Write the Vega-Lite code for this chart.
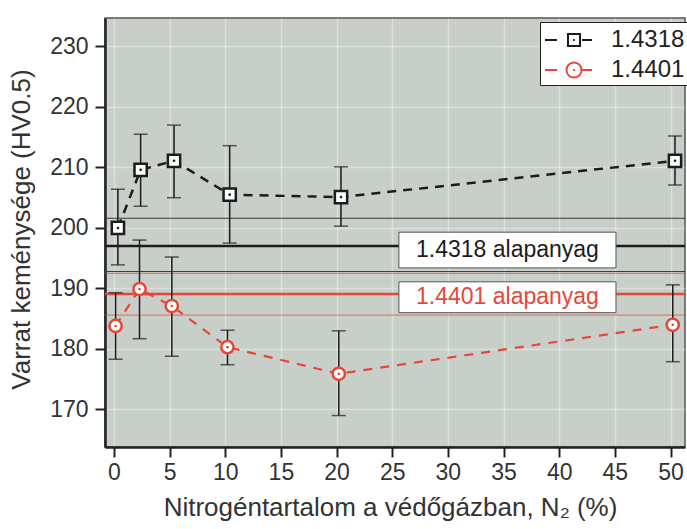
{
  "$schema": "https://vega.github.io/schema/vega-lite/v6.json",
  "width": 580,
  "height": 429,
  "autosize": "none",
  "padding": {"left": 105, "top": 18, "right": 2, "bottom": 82},
  "background": "white",
  "config": {
    "font": "Liberation Sans",
    "view": {"fill": "#c8cfc9", "stroke": "#555555", "strokeWidth": 1.5},
    "axis": {
      "labelFontSize": 23, "labelColor": "#333333", "titleFontSize": 26, "titleColor": "#333333",
      "titleFontWeight": "normal", "tickSize": 10, "tickWidth": 2, "tickColor": "#222222",
      "domainColor": "#222222", "domainWidth": 2.5, "gridColor": "#ffffff", "gridOpacity": 0.35, "gridWidth": 1.5
    }
  },
  "datasets": {
    "pts": [
      {"series": "1.4318", "n2": 0.36, "hv": 200.0, "lo": 193.9, "hi": 206.4},
      {"series": "1.4318", "n2": 2.4, "hv": 209.6, "lo": 203.6, "hi": 215.5},
      {"series": "1.4318", "n2": 5.4, "hv": 211.1, "lo": 205.0, "hi": 217.0},
      {"series": "1.4318", "n2": 10.4, "hv": 205.5, "lo": 197.5, "hi": 213.6},
      {"series": "1.4318", "n2": 20.4, "hv": 205.1, "lo": 200.3, "hi": 210.1},
      {"series": "1.4318", "n2": 50.4, "hv": 211.1, "lo": 207.1, "hi": 215.2},
      {"series": "1.4401", "n2": 0.15, "hv": 183.8, "lo": 178.3, "hi": 189.3},
      {"series": "1.4401", "n2": 2.3, "hv": 189.9, "lo": 181.7, "hi": 198.0},
      {"series": "1.4401", "n2": 5.2, "hv": 187.1, "lo": 178.8, "hi": 195.2},
      {"series": "1.4401", "n2": 10.2, "hv": 180.3, "lo": 177.4, "hi": 183.1},
      {"series": "1.4401", "n2": 20.2, "hv": 175.9, "lo": 169.0, "hi": 183.0},
      {"series": "1.4401", "n2": 50.2, "hv": 184.0, "lo": 177.9, "hi": 190.6}
    ],
    "baselines": [
      {"kind": "black_center", "hv": 197.0},
      {"kind": "black_band", "hv": 201.6},
      {"kind": "black_band", "hv": 192.8},
      {"kind": "red_center", "hv": 189.1},
      {"kind": "red_band", "hv": 192.5},
      {"kind": "red_band", "hv": 185.6}
    ],
    "boxes": [
      {"label": "1.4318 alapanyag", "x1": 25.6, "x2": 45.1, "y1": 193.4, "y2": 199.3, "xm": 35.35, "ym": 196.35, "series": "1.4318"},
      {"label": "1.4401 alapanyag", "x1": 25.6, "x2": 45.1, "y1": 186.0, "y2": 191.1, "xm": 35.35, "ym": 188.55, "series": "1.4401"}
    ]
  },
  "layer": [
    {
      "data": {"name": "baselines"},
      "transform": [{"filter": "datum.kind === 'black_band'"}],
      "mark": {"type": "rule", "color": "#3a3a3a", "strokeWidth": 1},
      "encoding": {
        "y": {"field": "hv", "type": "quantitative", "scale": {"domain": [163.8, 234.7], "nice": false, "zero": false},
          "axis": {"values": [170, 180, 190, 200, 210, 220, 230], "title": "Varrat keménysége (HV0.5)", "labelPadding": 7,
            "titleX": -84, "titleY": 211, "titleAlign": "center", "titleBaseline": "middle", "titleAngle": -90}}
      }
    },
    {
      "data": {"name": "baselines"},
      "transform": [{"filter": "datum.kind === 'red_band'"}],
      "mark": {"type": "rule", "color": "#e5483a", "strokeWidth": 1, "opacity": 0.75},
      "encoding": {"y": {"field": "hv", "type": "quantitative"}}
    },
    {
      "data": {"name": "baselines"},
      "transform": [{"filter": "datum.kind === 'black_center'"}],
      "mark": {"type": "rule", "color": "#1c1c1c", "strokeWidth": 2.5},
      "encoding": {"y": {"field": "hv", "type": "quantitative"}}
    },
    {
      "data": {"name": "baselines"},
      "transform": [{"filter": "datum.kind === 'red_center'"}],
      "mark": {"type": "rule", "color": "#e5483a", "strokeWidth": 2.5},
      "encoding": {"y": {"field": "hv", "type": "quantitative"}}
    },
    {
      "data": {"name": "boxes"},
      "mark": {"type": "rect", "fill": "white", "stroke": "#555555", "strokeWidth": 1},
      "encoding": {
        "x": {"field": "x1", "type": "quantitative"},
        "x2": {"field": "x2"},
        "y": {"field": "y1", "type": "quantitative"},
        "y2": {"field": "y2"}
      }
    },
    {
      "data": {"name": "boxes"},
      "mark": {"type": "text", "fontSize": 23, "align": "center", "baseline": "middle"},
      "encoding": {
        "x": {"field": "xm", "type": "quantitative"},
        "y": {"field": "ym", "type": "quantitative"},
        "text": {"field": "label"},
        "fill": {"condition": {"test": "datum.series === '1.4318'", "value": "#1c1c1c"}, "value": "#e5483a"}
      }
    },
    {
      "data": {"name": "pts"},
      "mark": {"type": "rule", "color": "#1c1c1c", "strokeWidth": 1.5},
      "encoding": {
        "x": {"field": "n2", "type": "quantitative"},
        "y": {"field": "lo", "type": "quantitative"},
        "y2": {"field": "hi"}
      }
    },
    {
      "data": {"name": "pts"},
      "mark": {"type": "tick", "orient": "horizontal", "color": "#1c1c1c", "size": 14, "thickness": 1.5},
      "encoding": {
        "x": {"field": "n2", "type": "quantitative"},
        "y": {"field": "lo", "type": "quantitative"}
      }
    },
    {
      "data": {"name": "pts"},
      "mark": {"type": "tick", "orient": "horizontal", "color": "#1c1c1c", "size": 14, "thickness": 1.5},
      "encoding": {
        "x": {"field": "n2", "type": "quantitative"},
        "y": {"field": "hi", "type": "quantitative"}
      }
    },
    {
      "data": {"name": "pts"},
      "transform": [{"filter": "datum.series === '1.4318'"}],
      "mark": {"type": "line", "color": "#1c1c1c", "strokeWidth": 2.5, "strokeDash": [9, 7], "interpolate": "linear"},
      "encoding": {
        "x": {"field": "n2", "type": "quantitative"},
        "y": {"field": "hv", "type": "quantitative"}
      }
    },
    {
      "data": {"name": "pts"},
      "transform": [{"filter": "datum.series === '1.4401'"}],
      "mark": {"type": "line", "color": "#e5483a", "strokeWidth": 2.2, "strokeDash": [9, 8], "interpolate": "linear"},
      "encoding": {
        "x": {"field": "n2", "type": "quantitative"},
        "y": {"field": "hv", "type": "quantitative"}
      }
    },
    {
      "data": {"name": "pts"},
      "mark": {"type": "point", "filled": false, "fill": "white", "strokeWidth": 2.5, "size": 150, "opacity": 1},
      "encoding": {
        "x": {"field": "n2", "type": "quantitative", "scale": {"domain": [-0.8, 51.3], "nice": false, "zero": false},
          "axis": {"values": [0, 5, 10, 15, 20, 25, 30, 35, 40, 45, 50], "title": "Nitrogéntartalom a védőgázban, N₂ (%)",
            "labelPadding": 4, "titleX": 285, "titleY": 60, "titleAlign": "center", "titleBaseline": "middle"}},
        "y": {"field": "hv", "type": "quantitative"},
        "stroke": {"condition": {"test": "datum.series === '1.4318'", "value": "#1c1c1c"}, "value": "#e5483a"},
        "shape": {"condition": {"test": "datum.series === '1.4318'", "value": "square"}, "value": "circle"}
      }
    },
    {
      "data": {"name": "pts"},
      "mark": {"type": "point", "filled": true, "shape": "circle", "size": 7, "opacity": 1},
      "encoding": {
        "x": {"field": "n2", "type": "quantitative"},
        "y": {"field": "hv", "type": "quantitative"},
        "fill": {"condition": {"test": "datum.series === '1.4318'", "value": "#1c1c1c"}, "value": "#e5483a"}
      }
    },
    {
      "data": {"name": "pts"},
      "transform": [{"filter": "false"}],
      "mark": {"type": "point", "filled": false, "strokeWidth": 2, "opacity": 1},
      "encoding": {
        "x": {"field": "n2", "type": "quantitative"},
        "y": {"field": "hv", "type": "quantitative"},
        "color": {"field": "series", "type": "nominal",
          "scale": {"domain": ["1.4318", "1.4401"], "range": ["#1c1c1c", "#e5483a"]},
          "legend": {"orient": "none", "legendX": 435, "legendY": 4, "title": null, "fillColor": "white", "strokeColor": "#222222",
            "padding": 3, "labelFontSize": 24, "labelColor": "#222222", "symbolSize": 784, "symbolOffset": 16,
            "labelOffset": 22, "rowPadding": 3, "symbolStrokeWidth": 2}},
        "shape": {"field": "series", "type": "nominal",
          "scale": {"domain": ["1.4318", "1.4401"],
            "range": ["M-2.07,0H-1.21M-0.43,-0.43H0.43V0.43H-0.43ZM-0.06,0H0.06M0.57,0H1.29",
                      "M-2.07,0H-1.21M-0.54,0A0.54,0.54 0 1,0 0.54,0A0.54,0.54 0 1,0 -0.54,0M-0.06,0H0.06M0.57,0H1.29"]},
          "legend": {"orient": "none", "legendX": 435, "legendY": 4, "title": null, "fillColor": "white", "strokeColor": "#222222",
            "padding": 3, "labelFontSize": 24, "labelColor": "#222222", "symbolSize": 784, "symbolOffset": 16,
            "labelOffset": 22, "rowPadding": 3, "symbolStrokeWidth": 2}}
      }
    }
  ]
}
